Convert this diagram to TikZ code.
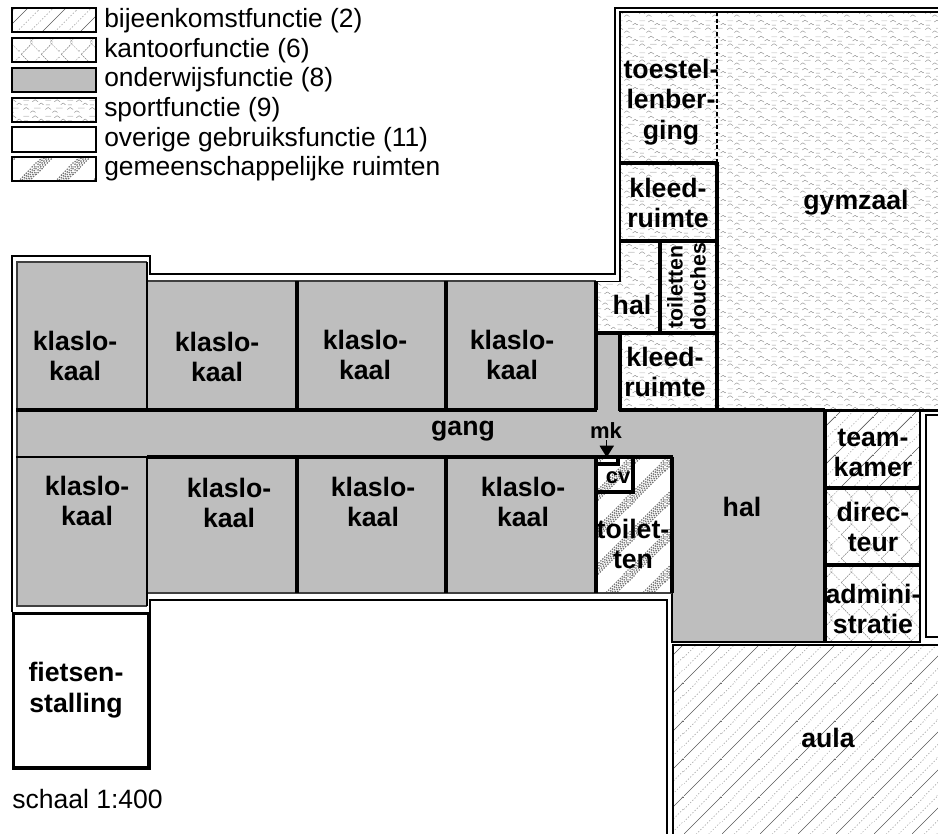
\documentclass[tikz,border=0pt]{standalone}
\usepackage{fontspec}
\setmainfont{Liberation Sans}
\usetikzlibrary{patterns}
\definecolor{onderwijs}{RGB}{190,190,190}
% one stroked segment inside a pattern tile (values in pt)
\newcommand{\patseg}[4]{\pgfpathmoveto{\pgfqpoint{#1pt}{#2pt}}\pgfpathlineto{\pgfqpoint{#3pt}{#4pt}}\pgfusepath{stroke}}
% bijeenkomst: tile 28.5pt = 38px
\pgfdeclarepatterninherentlycolored{hbijeen}{\pgfpointorigin}{\pgfqpoint{28.5pt}{28.5pt}}{\pgfqpoint{28.5pt}{28.5pt}}{%
  \definecolor{pa}{gray}{.35}\definecolor{pb}{gray}{.68}%
  \pgfsetcolor{pa}\pgfsetlinewidth{.5pt}%
  \patseg{-2}{-2}{31}{31}%
  \pgfsetcolor{pb}\pgfsetlinewidth{.5pt}\pgfsetdash{{1pt}{1.4pt}}{0pt}%
  \patseg{-2}{7.5}{21}{30.5}\patseg{7.5}{-2}{30.5}{21}%
  \patseg{-2}{17}{12}{31}\patseg{17}{-2}{31}{12}%
}
% kantoor: chevrons
\pgfdeclarepatterninherentlycolored{hkantoor}{\pgfpointorigin}{\pgfqpoint{15pt}{18pt}}{\pgfqpoint{15pt}{18pt}}{%
  \definecolor{pa}{gray}{.50}\definecolor{pb}{gray}{.72}%
  \pgfsetcolor{pa}\pgfsetlinewidth{.42pt}\pgfsetdash{{1.4pt}{.7pt}}{0pt}%
  \patseg{1}{9}{10}{18}\patseg{1}{9}{10}{0}%
  \pgfsetcolor{pb}%
  \patseg{8}{0}{15}{7}\patseg{8}{18}{15}{11}%
}
% sport: small dashes and chevrons
\pgfdeclarepatterninherentlycolored{hsport}{\pgfpointorigin}{\pgfqpoint{16.5pt}{12pt}}{\pgfqpoint{16.5pt}{12pt}}{%
  \definecolor{pa}{gray}{.58}\definecolor{pb}{gray}{.84}%
  \pgfsetcolor{pb}\pgfsetlinewidth{.7pt}%
  \patseg{1}{10.5}{5.5}{10.5}\patseg{9.5}{4.5}{14.5}{4.5}%
  \pgfsetcolor{pa}\pgfsetlinewidth{.38pt}%
  \patseg{8}{9.5}{10.2}{11}\patseg{10.2}{11}{12.5}{9.5}%
  \patseg{1}{3.5}{3.2}{5}\patseg{3.2}{5}{5.5}{3.5}%
  \patseg{6.5}{1.2}{8.5}{2.5}\patseg{8.5}{2.5}{10.5}{1.2}%
  \patseg{13}{7.2}{15}{8.5}\patseg{15}{8.5}{16.5}{7.2}%
  \patseg{1.5}{7}{4.5}{7}%
}
% gemeenschappelijk: dithered diagonal bands
\pgfdeclarepatterninherentlycolored{hgemeen}{\pgfpointorigin}{\pgfqpoint{27.75pt}{27.75pt}}{\pgfqpoint{27.75pt}{27.75pt}}{%
  \definecolor{pa}{gray}{.45}%
  \pgfsetcolor{pa}\pgfsetlinewidth{.95pt}\pgfsetdash{{1.05pt}{1.05pt}}{0pt}%
  \patseg{3}{-1}{29}{25}\patseg{-1}{22.75}{5}{28.75}%
  \patseg{1}{-1}{29}{27}\patseg{-1}{24.75}{3}{28.75}%
  \patseg{-1}{-1}{29}{29}\patseg{-1}{26.75}{1}{28.75}\patseg{26.75}{-1}{28.75}{1}%
  \patseg{-1}{1}{27}{29}\patseg{24.75}{-1}{28.75}{3}%
  \patseg{-1}{3}{25}{29}\patseg{22.75}{-1}{28.75}{5}%
}
\tikzset{
  wallthin/.style={line width=1.4pt,draw=black},
  roomthin/.style={line width=1pt,draw=black!75},
  wallthick/.style={line width=2.7pt,draw=black,line cap=butt},
  wallmid/.style={line width=1.6pt,draw=black},
  legendbox/.style={line width=1.8pt,draw=black},
  roomlabel/.style={font=\bfseries\fontsize{20pt}{22.8pt}\selectfont,align=center,inner sep=0pt},
  smalllabel/.style={font=\bfseries\fontsize{16pt}{17.5pt}\selectfont,align=center,inner sep=0pt},
  tinylabel/.style={font=\bfseries\fontsize{16.5pt}{18pt}\selectfont,inner sep=0pt},
  legendtext/.style={font=\fontsize{19.8pt}{22pt}\selectfont,anchor=base west,inner sep=0pt},
}
\begin{document}
\begin{tikzpicture}[x=.75pt,y=-.75pt]
\useasboundingbox (0,0) rectangle (938,834);
% ---- fills ----
\fill[onderwijs] (17,262) rectangle (147,410);
\fill[onderwijs] (147,281) rectangle (596,410);
\fill[onderwijs] (17,410) rectangle (825,457);
\fill[onderwijs] (17,458) rectangle (147,606);
\fill[onderwijs] (147,458) rectangle (596,593);
\fill[onderwijs] (596,281) rectangle (620,410);
\fill[onderwijs] (672,457) rectangle (825,642);
\fill[pattern=hsport] (620,12) rectangle (938,410);
\fill[white] (597,282) rectangle (620,333);
\fill[pattern=hsport] (597,282) rectangle (620,333);
\fill[pattern=hgemeen] (596,457) rectangle (672,593);
\fill[pattern=hbijeen] (825,410) rectangle (920,488);
\fill[pattern=hkantoor] (825,488) rectangle (920,642);
\fill[pattern=hbijeen] (673,645) rectangle (938,834);
% ---- outer walls ----
\draw[wallthin] (12,612) -- (12,256) -- (150,256) -- (150,274) -- (615,274) -- (615,8) -- (938,8);
\draw[wallthin] (150,612) -- (150,600) -- (667,600) -- (667,834);
\draw[wallmid] (673,834) -- (673,645) -- (938,645);
\draw[wallmid] (672,593) -- (672,642) -- (920,642) -- (920,410);
\draw[wallmid] (938,415) -- (926,415) -- (926,637) -- (938,637);
% ---- classroom outlines ----
\draw[roomthin] (147,262) -- (17,262) -- (17,606) -- (147,606);
\draw[roomthin] (147,281) -- (596,281);
\draw[roomthin] (147,593) -- (672,593);
\draw[wallmid] (147,262) -- (147,410);
\draw[wallmid] (147,458) -- (147,606);
\draw[wallthick] (297,281) -- (297,410);
\draw[wallthick] (446,281) -- (446,410);
\draw[wallthick] (297,457) -- (297,593);
\draw[wallthick] (446,457) -- (446,593);
\draw[wallthick] (596,281) -- (596,410);
\draw[wallthick] (596,457) -- (596,593);
\draw[wallthick] (16,410) -- (597,410);
\draw[wallthick] (147,457) -- (673,457);
\draw[wallmid] (16,457) -- (147,457);
\draw[wallthick] (672,457) -- (672,593);
% ---- gym wing ----
\draw[wallthin] (597,281.5) -- (620,281.5) -- (620,12) -- (938,12);
\draw[wallmid,densely dashed] (717,12) -- (717,163);
\draw[wallthick] (620,163) -- (717,163);
\draw[wallthick] (620,241) -- (717,241);
\draw[wallthick] (717,162) -- (717,410);
\draw[wallthick] (660,241) -- (660,333);
\draw[wallthick] (596,333) -- (718,333);
\draw[wallthick] (620,333) -- (620,411);
\draw[wallthick] (619,410) -- (825,410);
\draw[wallmid] (825,410.5) -- (938,410.5);
% ---- offices ----
\draw[wallthick] (825,410) -- (825,643);
\draw[wallthick] (825,488) -- (920,488);
\draw[wallthick] (825,565) -- (920,565);
% ---- utility ----
\draw[wallthick] (596,492) -- (633,492) -- (633,457);
\draw[wallthick] (596,464) -- (618,464) -- (618,457);
\coordinate (mktop) at (606.7,440);
\coordinate (mkleft) at (599.5,445.7);
\coordinate (mkright) at (614,445.7);
\coordinate (mktip) at (606.7,457.3);
\draw[line width=.8pt] (mktop) -- (606.7,446);
\fill (mkleft) -- (mkright) -- (mktip) -- cycle;
\draw[wallthick] (13.5,613.5) rectangle (149,768);
% ---- room labels ----
\node[roomlabel] (k1) at (75,356) {klaslo-\\kaal};
\node[roomlabel] (k2) at (217,357) {klaslo-\\kaal};
\node[roomlabel] (k3) at (365,355) {klaslo-\\kaal};
\node[roomlabel] (k4) at (512,355) {klaslo-\\kaal};
\node[roomlabel] (k5) at (87,501) {klaslo-\\kaal};
\node[roomlabel] (k6) at (229,503) {klaslo-\\kaal};
\node[roomlabel] (k7) at (373,502) {klaslo-\\kaal};
\node[roomlabel] (k8) at (523,502) {klaslo-\\kaal};
\node[roomlabel] (gang) at (463,431) {gang};
\node[roomlabel] (hal1) at (742,507) {hal};
\node[roomlabel] (hal2) at (632,305) {hal};
\node[roomlabel] (toest) at (671,102) {toestel-\\lenber-\\ging};
\node[roomlabel] (kl1) at (668,203) {kleed-\\ruimte};
\node[roomlabel] (kl2) at (665,372) {kleed-\\ruimte};
\node[roomlabel] (gym) at (856,203) {gymzaal};
\node[smalllabel,rotate=90] (toil) at (675,287) {toiletten};
\node[smalllabel,rotate=90] (dou) at (698,287) {douches};
\node[roomlabel] (team) at (873,453) {team-\\kamer};
\node[roomlabel] (dir) at (873,527) {direc-\\teur};
\node[roomlabel] (adm) at (873,609) {admini-\\stratie};
\node[roomlabel] (aula) at (828,738) {aula};
\node[roomlabel] (fiets) at (76,690) {fietsen-\\stalling};
\node[roomlabel] (toilet) at (633,544) {toilet-\\ten};
\node[tinylabel] (cv) at (618,478) {cv};
\node[tinylabel] (mk) at (606,431) {mk};
% ---- legend ----
\fill[pattern=hbijeen] (12,8) rectangle (96,32);
\draw[legendbox] (12,8) rectangle (96,32);
\fill[pattern=hkantoor] (12,38) rectangle (96,62);
\draw[legendbox] (12,38) rectangle (96,62);
\fill[onderwijs] (12,68) rectangle (96,92);
\draw[legendbox] (12,68) rectangle (96,92);
\fill[pattern=hsport] (12,98) rectangle (96,122);
\draw[legendbox] (12,98) rectangle (96,122);
\draw[legendbox] (12,127) rectangle (96,152);
\fill[pattern=hgemeen] (12,157) rectangle (96,181);
\draw[legendbox] (12,157) rectangle (96,181);
\node[legendtext] (l1) at (104,27.5) {bijeenkomstfunctie (2)};
\node[legendtext] (l2) at (104,57.5) {kantoorfunctie (6)};
\node[legendtext] (l3) at (104,86.5) {onderwijsfunctie (8)};
\node[legendtext] (l4) at (104,116.5) {sportfunctie (9)};
\node[legendtext] (l5) at (104,146.5) {overige gebruiksfunctie (11)};
\node[legendtext] (l6) at (104,176) {gemeenschappelijke ruimten};
\node[font=\fontsize{19.9pt}{22pt}\selectfont,anchor=base west,inner sep=0pt] (schaal) at (12,808) {schaal 1:400};
\end{tikzpicture}
\end{document}
